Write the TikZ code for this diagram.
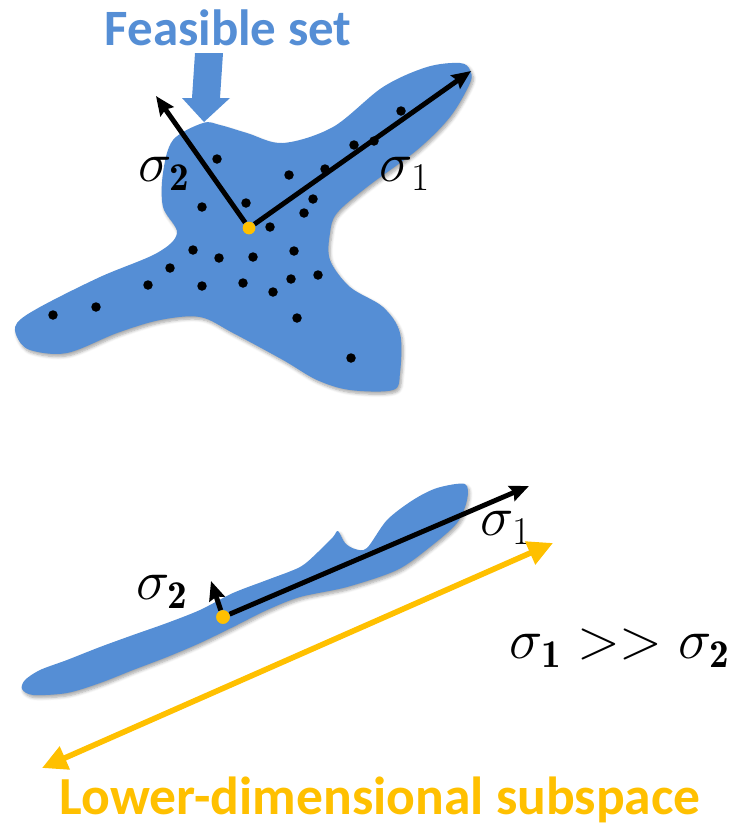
\RequirePackage{fix-cm}
\documentclass[tikz,border=0pt]{standalone}
\usepackage{amsmath}
\usepackage{fontspec}
\newfontfamily\calib{Carlito}
\usetikzlibrary{arrows.meta,shadows.blur}
\definecolor{setblue}{RGB}{85,142,213}
\definecolor{subyellow}{RGB}{255,192,0}
\tikzset{
  blobfill/.style={fill=setblue, draw=none,
    blur shadow={shadow blur steps=6, shadow opacity=35,
                 shadow xshift=1pt, shadow yshift=-1.5pt}},
  pcaarrow/.style={-{Stealth[length=0.38cm,width=0.32cm,inset=0.05cm]}, line width=2.8pt, black},
  subarrow/.style={{Triangle[length=0.5cm,width=0.48cm]}-{Triangle[length=0.5cm,width=0.48cm]},
    line width=3.2pt, subyellow},
  meandot/.style={circle, fill=subyellow, inner sep=0pt, minimum size=0.25cm},
  siglbl/.style={font=\fontsize{32}{36}\selectfont, inner sep=0pt},
  bigtitle/.style={font=\calib\bfseries\fontsize{29}{34}\selectfont, inner sep=0pt, anchor=base},
}
\newcommand{\datapt}[1]{\fill[black] #1 circle (0.095cm);}

\begin{document}
\begin{tikzpicture}[x=0.02cm, y=-0.02cm]
  \useasboundingbox (0,0) rectangle (736,825);
  % full-rank feasible set
  \path[blobfill] plot[smooth cycle, tension=0.55] coordinates {
    (203,123) (220,125) (247,133) (283,143) (333,127) (383,87) (427,67) (460,63)
    (470,70) (470,83) (450,117) (417,150) (367,187) (337,213) (330,233) (330,260)
    (350,287) (383,307) (400,333) (400,373) (393,390) (350,390) (317,380) (283,360)
    (233,333) (200,317) (160,320) (117,333) (67,353) (30,350) (17,337) (17,323)
    (40,307) (100,277) (157,253) (177,233) (163,207) (163,173) (173,140)};
  % samples
  \foreach \p in {(217,159),(289,175),(325,169),(354,145),(374,141),(401,111),
    (202,207),(246,203),(313,199),(304,213),(270,227),(193,250),(219,258),
    (253,257),(294,251),(170,268),(148,285),(202,286),(243,283),(273,292),
    (291,279),(318,275),(96,307),(53,315),(297,318),(351,358)}
    {\datapt{\p}}
  % principal directions, top
  \coordinate (topS1) at (471,71);
  \coordinate (topS2) at (156,96);
  \node[meandot] (ctrA) at (249,228) {};
  \draw[pcaarrow] (ctrA) -- (topS1);
  \draw[pcaarrow] (ctrA) -- (topS2);
  \node[meandot] at (ctrA) {};
  \node[siglbl] (lblA1) at (405,174) {$\sigma_1$};
  \node[siglbl] (lblA2) at (164,174) {$\sigma_{\mathbf{2}}$};
  % pointer to the set
  \fill[setblue] (195,53) -- (223,53) -- (220,98) -- (230,98) -- (204,122)
    -- (182,98) -- (192,98) -- cycle;
  \node[bigtitle, text=setblue] (feas) at (228,45) {Feasible set};

  % flat feasible set
  \path[blobfill] plot[smooth cycle, tension=0.5] coordinates {
    (25,680) (40,670) (67,660) (100,647) (133,635) (167,623) (200,610) (233,593)
    (267,580) (300,567) (318,552) (333,537) (338,531) (345,543) (355,549) (367,548)
    (387,520) (413,500) (437,488) (465,484) (467,500) (457,523) (430,547) (397,570)
    (347,587) (300,597) (267,610) (233,627) (200,643) (167,657) (133,670) (100,683)
    (67,693) (33,695) (22,689)};
  % principal directions, bottom
  \coordinate (botS1) at (529,486);
  \coordinate (botS2) at (211,581);
  \node[meandot, minimum width=0.23cm, minimum height=0.27cm] (ctrB) at (223,617) {};
  \draw[pcaarrow] (ctrB) -- (botS1);
  \draw[pcaarrow] (ctrB) -- (botS2);
  \node[meandot, minimum width=0.23cm, minimum height=0.27cm] at (ctrB) {};
  \node[siglbl] (lblB1) at (506,528) {$\sigma_1$};
  \node[siglbl] (lblB2) at (162,592) {$\sigma_{\mathbf{2}}$};
  \node[siglbl] (ineq) at (620,648) {$\sigma_{\mathbf{1}} >> \sigma_{\mathbf{2}}$};
  % subspace
  \coordinate (subR) at (553,543);
  \coordinate (subL) at (42,768);
  \draw[subarrow] (subL) -- (subR);
  \node[bigtitle, text=subyellow, font=\calib\bfseries\fontsize{30.5}{35}\selectfont]
    (lowdim) at (380,814) {Lower-dimensional subspace};
\end{tikzpicture}
\end{document}
